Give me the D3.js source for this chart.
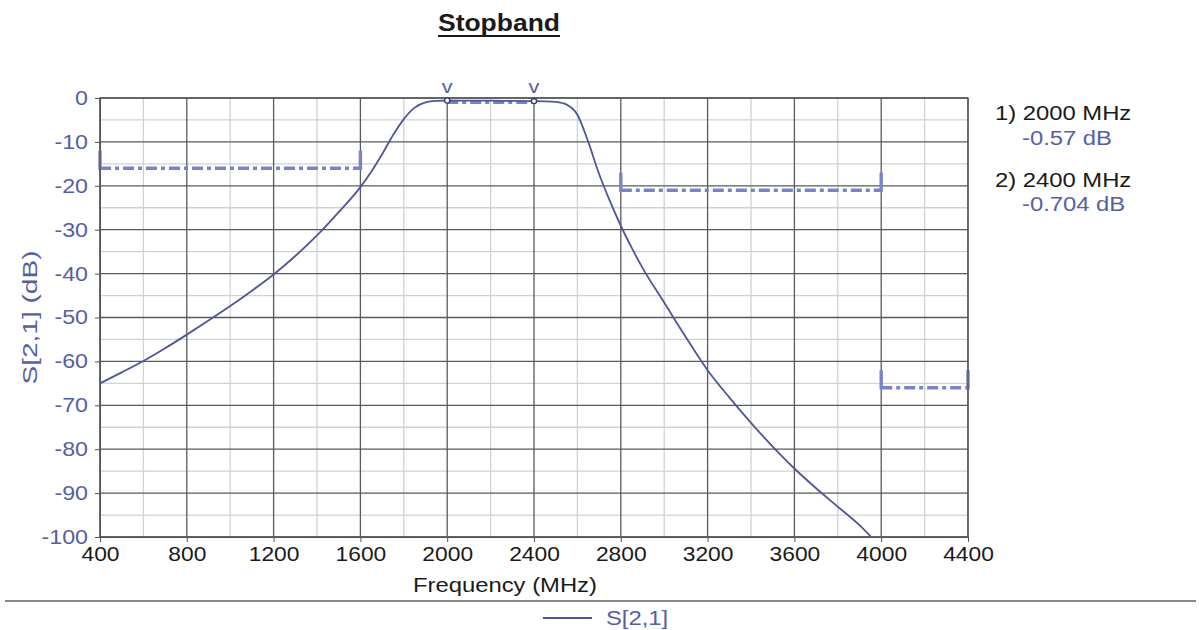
<!DOCTYPE html>
<html>
<head>
<meta charset="utf-8">
<script src="https://cdn.jsdelivr.net/npm/d3@7/dist/d3.min.js"></script>
<style>
  html, body { margin: 0; padding: 0; background: #fff; }
  svg { display: block; }
  text { font-family: "Liberation Sans", Arial, sans-serif; }
</style>
</head>
<body>
<svg id="chart" width="1199" height="630"></svg>
<script>
// ---- data ----
const freqMHz = [400, 500, 600, 700, 800, 900, 1000, 1100, 1200, 1300, 1400, 1500, 1600, 1650, 1700, 1750, 1800, 1850, 1900, 1950, 2000, 2100, 2200, 2300, 2400, 2450, 2500, 2550, 2600, 2650, 2700, 2750, 2800, 2850, 2900, 3000, 3100, 3200, 3300, 3400, 3500, 3600, 3700, 3800, 3900, 3954];
const s21dB = [-65, -62.5, -59.9, -57.0, -53.9, -50.7, -47.4, -43.9, -40.2, -36.0, -31.3, -26.0, -20.3, -16.8, -12.8, -8.5, -4.8, -2.2, -1.0, -0.65, -0.57, -0.6, -0.62, -0.66, -0.704, -0.75, -0.9, -1.5, -3.8, -10, -17.3, -23.5, -29.1, -34.1, -38.7, -46.6, -54.5, -62.0, -68.2, -74.0, -79.4, -84.4, -88.9, -93.1, -97.3, -100];
const xTicks = [400, 800, 1200, 1600, 2000, 2400, 2800, 3200, 3600, 4000, 4400];
const yTicks = [0, -10, -20, -30, -40, -50, -60, -70, -80, -90, -100];
// spec masks: [startMHz, endMHz, limit dB]
const specStart = [400, 2800, 4000];
const specEnd = [1600, 4000, 4400];
const specLimit = [-16, -21, -66];
const passStart = [2000];
const passEnd = [2400];
const passLimit = [-1];
// markers
const markerFreq = [2000, 2400];
const markerVal = [-0.57, -0.704];
const markerLabel = ["1) 2000 MHz", "2) 2400 MHz"];
const markerValLabel = ["-0.57 dB", "-0.704 dB"];

// ---- layout ----
const svg = d3.select("#chart");
const L = 100, R = 968, T = 98, B = 537;
const x = d3.scaleLinear().domain([400, 4400]).range([L, R]);
const y = d3.scaleLinear().domain([-100, 0]).range([B, T]);
const blue = "#4d5799";
const textBlue = "#5560a4";
const specBlue = "#7a83c8";

function stretch(sel, k) {
  sel.each(function () {
    const w = this.getComputedTextLength();
    d3.select(this).attr("textLength", w * k).attr("lengthAdjust", "spacingAndGlyphs");
  });
  return sel;
}

// minor grid
const minorX = d3.range(600, 4400, 400);
const minorY = d3.range(-95, 0, 10);
svg.append("g").selectAll("line").data(minorX).join("line")
  .attr("x1", d => x(d)).attr("x2", d => x(d)).attr("y1", T).attr("y2", B)
  .attr("stroke", "#d2d2d2").attr("stroke-width", 1.3);
svg.append("g").selectAll("line").data(minorY).join("line")
  .attr("y1", d => y(d)).attr("y2", d => y(d)).attr("x1", L).attr("x2", R)
  .attr("stroke", "#d2d2d2").attr("stroke-width", 1.3);
// major grid
svg.append("g").selectAll("line").data(xTicks).join("line")
  .attr("x1", d => x(d)).attr("x2", d => x(d)).attr("y1", T).attr("y2", B)
  .attr("stroke", "#5a5a5a").attr("stroke-width", 1.3);
svg.append("g").selectAll("line").data(yTicks).join("line")
  .attr("y1", d => y(d)).attr("y2", d => y(d)).attr("x1", L).attr("x2", R)
  .attr("stroke", "#5a5a5a").attr("stroke-width", 1.3);

// axes
const fmt = d => String(d);
const xAxis = svg.append("g").attr("transform", `translate(0,${B})`)
  .call(d3.axisBottom(x).tickValues(xTicks).tickSize(5).tickPadding(5).tickFormat(fmt));
xAxis.select(".domain").attr("stroke", "#555");
xAxis.selectAll(".tick line").attr("stroke", "#555");
stretch(xAxis.selectAll("text").attr("font-size", 20).attr("fill", "#1a1a1a"), 1.14);

const yAxis = svg.append("g").attr("transform", `translate(${L},0)`)
  .call(d3.axisLeft(y).tickValues(yTicks).tickSize(5).tickPadding(7).tickFormat(fmt));
yAxis.select(".domain").attr("stroke", "#555");
yAxis.selectAll(".tick line").attr("stroke", "#555");
stretch(yAxis.selectAll("text").attr("font-size", 20).attr("fill", textBlue), 1.16);

// spec masks
const specG = svg.append("g");
specStart.forEach((s, i) => {
  const e = specEnd[i], v = specLimit[i];
  specG.append("line").attr("x1", x(s)).attr("x2", x(e)).attr("y1", y(v)).attr("y2", y(v))
    .attr("stroke", specBlue).attr("stroke-width", 3.4).attr("stroke-dasharray", "11,4,4,4");
  [s, e].forEach(f => {
    specG.append("line").attr("x1", x(f)).attr("x2", x(f)).attr("y1", y(v) + 1.7).attr("y2", y(v + 4))
      .attr("stroke", specBlue).attr("stroke-width", 3.4);
  });
});
passStart.forEach((s, i) => {
  specG.append("line").attr("x1", x(s)).attr("x2", x(passEnd[i])).attr("y1", y(passLimit[i])).attr("y2", y(passLimit[i]))
    .attr("stroke", specBlue).attr("stroke-width", 3).attr("stroke-dasharray", "11,4,4,4");
});

// plot border
svg.append("rect").attr("x", L).attr("y", T).attr("width", R - L).attr("height", B - T)
  .attr("fill", "none").attr("stroke", "#555").attr("stroke-width", 1.3);

// curve
svg.append("clipPath").attr("id", "clip").append("rect")
  .attr("x", L).attr("y", T - 2).attr("width", R - L).attr("height", B - T + 2);
const line = d3.line().x((d, i) => x(freqMHz[i])).y(d => y(d)).curve(d3.curveMonotoneX);
svg.append("path").datum(s21dB).attr("d", line).attr("clip-path", "url(#clip)")
  .attr("fill", "none").attr("stroke", blue).attr("stroke-width", 1.8);

// markers
markerFreq.forEach((f, i) => {
  svg.append("circle").attr("cx", x(f)).attr("cy", y(markerVal[i])).attr("r", 2.6)
    .attr("fill", "#fff").attr("stroke", "#333a70").attr("stroke-width", 1.3);
  stretch(svg.append("text").attr("x", x(f)).attr("y", y(0) - 5).attr("text-anchor", "middle")
    .attr("font-size", 18).attr("fill", textBlue).text("v"), 1.2);
  stretch(svg.append("text").attr("x", 995).attr("y", 120 + i * 67).attr("font-size", 20).attr("fill", "#1a1a1a").text(markerLabel[i]), 1.19);
  stretch(svg.append("text").attr("x", 1022).attr("y", 145 + i * 66).attr("font-size", 20).attr("fill", textBlue).text(markerValLabel[i]), 1.19);
});

// title
const title = svg.append("text").attr("x", 499).attr("y", 31).attr("text-anchor", "middle")
  .attr("font-size", 23).attr("font-weight", "bold").attr("fill", "#1a1a1a").text("Stopband");
stretch(title, 1.15);
svg.append("line").attr("x1", 499 - 61).attr("x2", 499 + 61).attr("y1", 36).attr("y2", 36)
  .attr("stroke", "#1a1a1a").attr("stroke-width", 2.2);

// axis titles
stretch(svg.append("text").attr("x", 505).attr("y", 592).attr("text-anchor", "middle")
  .attr("font-size", 20).attr("fill", "#1a1a1a").text("Frequency (MHz)"), 1.19);
svg.append("text").attr("transform", `translate(37,${(T + B) / 2}) rotate(-90)`).attr("text-anchor", "middle")
  .attr("font-size", 20).attr("fill", textBlue).attr("textLength", 134).attr("lengthAdjust", "spacingAndGlyphs")
  .text("S[2,1] (dB)");

// separator and legend
svg.append("line").attr("x1", 5).attr("x2", 1196).attr("y1", 601).attr("y2", 601)
  .attr("stroke", "#888").attr("stroke-width", 2);
svg.append("line").attr("x1", 543).attr("x2", 592).attr("y1", 618).attr("y2", 618)
  .attr("stroke", blue).attr("stroke-width", 1.8);
stretch(svg.append("text").attr("x", 606).attr("y", 625).attr("font-size", 20).attr("fill", textBlue).text("S[2,1]"), 1.19);
</script>
</body>
</html>
